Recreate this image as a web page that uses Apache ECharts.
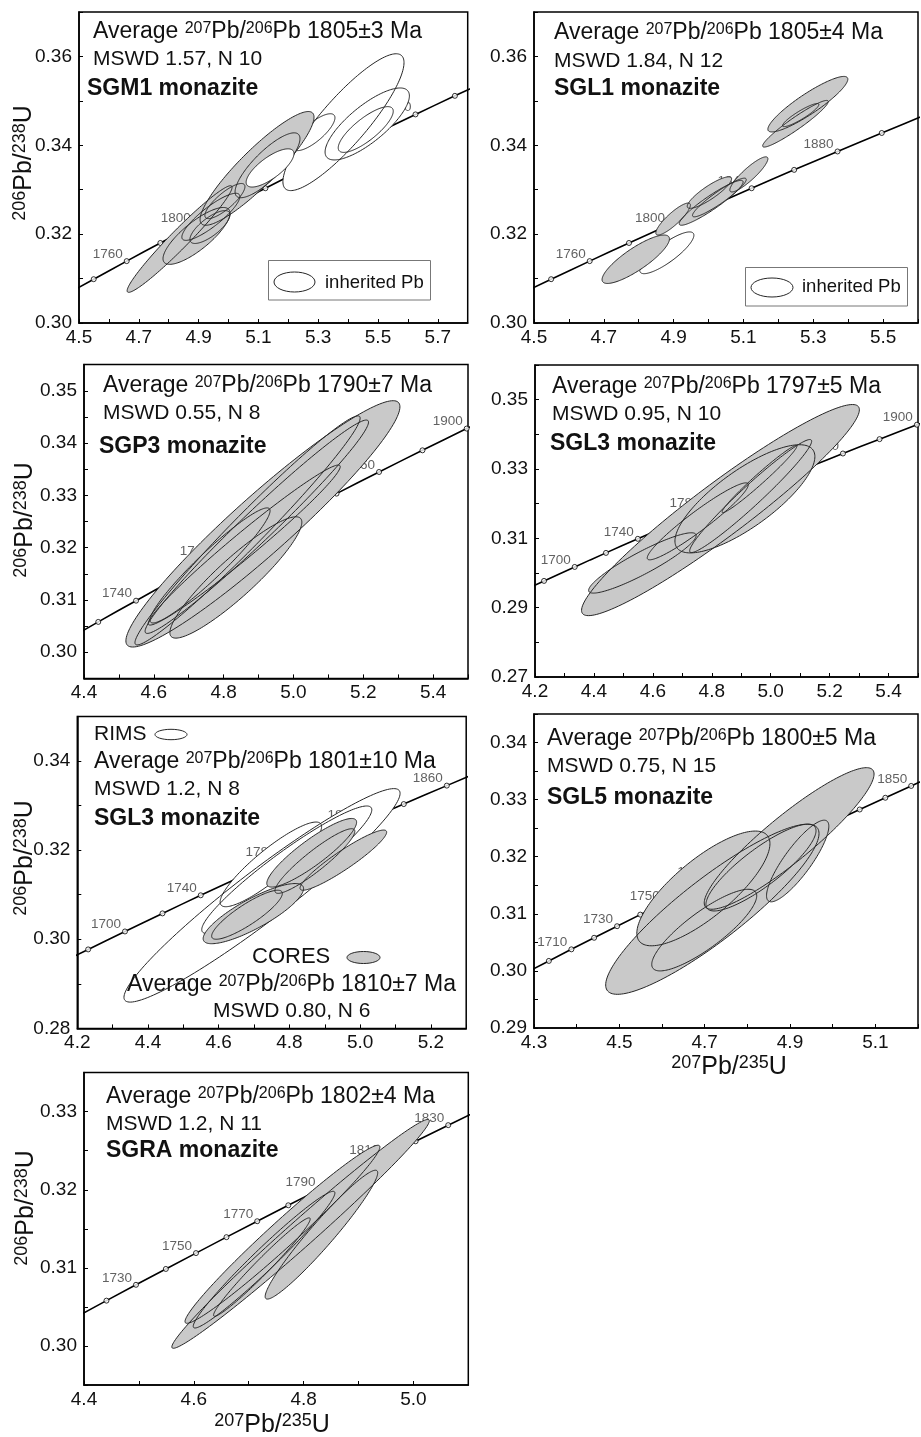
<!DOCTYPE html>
<html><head><meta charset="utf-8">
<script src="https://cdn.jsdelivr.net/npm/echarts@6/dist/echarts.min.js"></script>
<style>html,body{margin:0;padding:0;background:#fff}#c{width:921px;height:1437px}</style>
</head><body><div id="c"></div>
<script>
// ---------- Concordia (207Pb/235U, 206Pb/238U) every 10 Ma ----------
const concAges = [1660,1670,1680,1690,1700,1710,1720,1730,1740,1750,1760,1770,1780,1790,1800,1810,1820,1830,1840,1850,1860,1870,1880,1890,1900,1910,1920,1930,1940,1950,1960];
const concX = [4.1287,4.1795,4.2307,4.2825,4.3348,4.3876,4.4409,4.4947,4.5491,4.6040,4.6595,4.7155,4.7721,4.8292,4.8869,4.9452,5.0040,5.0634,5.1234,5.1840,5.2452,5.3071,5.3695,5.4325,5.4962,5.5605,5.6254,5.6910,5.7572,5.8241,5.8916];
const concY = [0.29370,0.29571,0.29772,0.29974,0.30175,0.30378,0.30580,0.30783,0.30986,0.31189,0.31393,0.31597,0.31801,0.32005,0.32210,0.32416,0.32621,0.32827,0.33033,0.33240,0.33447,0.33654,0.33861,0.34069,0.34277,0.34486,0.34695,0.34904,0.35113,0.35323,0.35533];

// ---------- Error ellipses: [x_lo, x_hi, y_lo, y_hi, rho] ----------
// Panel 1: SGM1
const p1White = [[5.182,5.587,0.3298,0.3606,0.87],[5.323,5.605,0.3367,0.3529,0.78],[5.216,5.356,0.3388,0.3471,0.78],[5.367,5.551,0.3384,0.3487,0.80]];
const p1Gray = [[4.661,5.012,0.3069,0.3309,0.97],[4.905,5.286,0.3220,0.3476,0.90],[4.781,5.005,0.3132,0.3260,0.80],[4.844,5.038,0.3186,0.3292,0.86],[4.921,5.055,0.3235,0.3314,0.82],[5.022,5.239,0.3282,0.3428,0.82],[4.871,5.005,0.3179,0.3253,0.75]];
const p1WhiteTop = [[5.059,5.219,0.3306,0.3392,0.75]];
// Panel 2: SGL1
const p2White = [[4.803,4.958,0.3111,0.3205,0.84]];
const p2Gray = [[5.170,5.399,0.3430,0.3555,0.90],[5.155,5.343,0.3396,0.3501,0.95],[5.212,5.316,0.3442,0.3494,0.91],[5.061,5.170,0.3295,0.3374,0.89],[4.939,5.066,0.3258,0.3329,0.87],[4.954,5.108,0.3239,0.3326,0.93],[4.916,5.099,0.3220,0.3321,0.93],[4.849,4.948,0.3198,0.3270,0.87],[4.695,4.888,0.3089,0.3198,0.84]];
// Panel 3: SGP3
const p3Gray = [[4.520,5.305,0.3010,0.3481,0.95],[4.546,5.191,0.3014,0.3452,0.98],[4.575,5.215,0.3036,0.3444,0.98],[4.584,5.134,0.3052,0.3358,0.98],[4.646,5.024,0.3027,0.3259,0.91],[4.589,4.933,0.3056,0.3276,0.95]];
// Panel 4: SGL3
const p4Gray = [[4.358,5.301,0.2877,0.3486,0.95],[4.675,5.150,0.3058,0.3370,0.78],[4.581,4.924,0.3038,0.3260,0.95],[4.382,4.747,0.2942,0.3116,0.91],[4.725,5.139,0.3059,0.3385,0.97],[4.835,5.089,0.3174,0.3368,0.98]];
// Panel 5: SGL3 rims / cores
const p5Rims = [[4.332,5.113,0.2859,0.3338,0.955],[4.552,5.033,0.3013,0.3299,0.94],[4.604,4.891,0.3073,0.3263,0.89]];
const p5Cores = [[4.556,4.840,0.2990,0.3125,0.83],[4.580,4.780,0.3000,0.3110,0.87],[4.736,4.990,0.3117,0.3271,0.89],[4.759,4.985,0.3103,0.3248,0.92],[4.830,5.075,0.3110,0.3245,0.93]];
// Panel 6: SGL5
const p6Gray = [[4.699,5.097,0.3108,0.3356,0.91],[4.541,4.853,0.3044,0.3245,0.78],[4.468,4.968,0.2959,0.3257,0.89],[4.576,4.822,0.3000,0.3143,0.84],[4.703,4.961,0.3105,0.3257,0.85],[4.845,4.991,0.3121,0.3264,0.85]];
// Panel 7: SGRA
const p7Gray = [[4.560,5.029,0.2997,0.3290,0.988],[4.584,4.939,0.3029,0.3257,0.98],[4.599,4.857,0.3023,0.3198,0.975],[4.636,4.812,0.3038,0.3164,0.977],[4.730,4.935,0.3060,0.3225,0.96]];

// ---------- Axis ranges and labelled ages ----------
const xRanges = [[4.5,5.8],[4.5,5.6],[4.4,5.5],[4.2,5.5],[4.2,5.3],[4.3,5.2],[4.4,5.1]];
const yRanges = [[0.30,0.37],[0.30,0.37],[0.295,0.355],[0.27,0.36],[0.28,0.35],[0.29,0.345],[0.295,0.335]];
const yTickSteps = [0.01,0.01,0.005,0.01,0.01,0.005,0.005];
const yLabelSteps = [0.02,0.02,0.01,0.02,0.02,0.01,0.01];
const markerSteps = [20,20,20,20,20,10,10];
const ageLabels = [
  [1760,1800,1840,1880,1920],
  [1760,1800,1840,1880],
  [1740,1780,1820,1860,1900],
  [1700,1740,1780,1820,1860,1900],
  [1700,1740,1780,1820,1860],
  [1710,1730,1750,1770,1790,1810,1830,1850],
  [1730,1750,1770,1790,1810,1830]
];

// ---------- layout (pixels) ----------
const FONT = "'Liberation Sans', Arial, Helvetica, sans-serif";
const grids = [
  {left:79, top:12, width:388.7, height:311},
  {left:534, top:12, width:390.5, height:311},
  {left:84, top:364.6, width:384, height:313.8},
  {left:535, top:365, width:392.2, height:312},
  {left:77.3, top:716.4, width:388.9, height:312},
  {left:534, top:714, width:389.7, height:314},
  {left:84, top:1072.6, width:384.3, height:312.4}
];
const GRAY = '#c9c9c9', EDGE = '#262626';

function onStep(v, base, step){ const q=(v-base)/step; return Math.abs(q-Math.round(q))<1e-6; }

const option = {animation:false, backgroundColor:'#fff', grid:[], xAxis:[], yAxis:[], series:[], graphic:{elements:[]}};

grids.forEach((g,k)=>{
  option.grid.push(Object.assign({show:true, borderColor:'#000', borderWidth:1.5, containLabel:false}, g));
  const xr = xRanges[k], yr = yRanges[k];
  const common = {
    type:'value', gridIndex:k, splitLine:{show:false},
    axisLine:{show:true, onZero:false, lineStyle:{color:'#000', width:1.5}},
    axisTick:{show:true, inside:true, length:4, lineStyle:{color:'#000', width:1}}
  };
  option.xAxis.push(Object.assign({}, common, {min:xr[0], max:xr[1], interval:0.1,
    axisLabel:{fontSize:19, fontFamily:FONT, color:'#111', margin:5,
      formatter:v=> onStep(v, xr[0], 0.2) ? v.toFixed(1) : ''}}));
  const yb = Math.ceil(yr[0]*100-1e-9)/100;
  option.yAxis.push(Object.assign({}, common, {min:yr[0], max:yr[1], interval:yTickSteps[k],
    axisLabel:{fontSize:19, fontFamily:FONT, color:'#111', margin:7,
      formatter:v=> onStep(v, yb, yLabelSteps[k]) ? v.toFixed(2) : ''}}));
  // concordia line
  option.series.push({type:'line', xAxisIndex:k, yAxisIndex:k, z:1, silent:true, symbol:'none',
    data: concX.map((x,i)=>[x, concY[i]]), lineStyle:{color:'#000', width:1.6}});
  // markers + age labels
  const mk = [];
  concAges.forEach((a,i)=>{
    if (a % markerSteps[k] !== 0) return;
    const item = {value:[concX[i], concY[i], a]};
    if (ageLabels[k].indexOf(a) >= 0) item.label = {show:true};
    mk.push(item);
  });
  option.series.push({type:'scatter', xAxisIndex:k, yAxisIndex:k, z:1, silent:true, symbol:'circle', symbolSize:5,
    itemStyle:{color:'#fff', borderColor:'#000', borderWidth:1}, data:mk,
    label:{show:false, position:'left', distance:1, offset:[0,-7], formatter:p=>String(p.value[2]),
      fontSize:13.5, fontFamily:FONT, color:'#3a3a3a'}});
});

let zc = 3;
function ell(k, data, fill, stroke){
  option.series.push({type:'custom', xAxisIndex:k, yAxisIndex:k, z:zc++, silent:true, clip:true,
    dimensions:['xlo','xhi','ylo','yhi','rho'], encode:{x:[0,1], y:[2,3]}, data,
    renderItem:(params, api)=>{
      const xlo=api.value(0), xhi=api.value(1), ylo=api.value(2), yhi=api.value(3), r=api.value(4);
      const cx=(xlo+xhi)/2, cy=(ylo+yhi)/2, sx=(xhi-xlo)/2, sy=(yhi-ylo)/2, q=Math.sqrt(1-r*r);
      const pts=[];
      for(let i=0;i<160;i++){ const t=i/160*2*Math.PI;
        pts.push(api.coord([cx+sx*Math.cos(t), cy+sy*(r*Math.cos(t)+q*Math.sin(t))])); }
      return {type:'polygon', shape:{points:pts}, style:{fill:fill, stroke:stroke, lineWidth:1}};
    }});
}
function group(k, data, fill){ ell(k, data, fill, null); ell(k, data, null, EDGE); }

group(0, p1White, '#fff'); group(0, p1Gray, GRAY); group(0, p1WhiteTop, '#fff');
group(1, p2White, '#fff'); group(1, p2Gray, GRAY);
group(2, p3Gray, GRAY);
group(3, p4Gray, GRAY);
group(4, p5Rims, '#fff'); group(4, p5Cores, GRAY);
group(5, p6Gray, GRAY);
group(6, p7Gray, GRAY);

// ---------- text ----------
const G = option.graphic.elements;
function T(x, y, text, size, bold, sup, extra){
  const el = {type:'text', x, y, z:100, silent:true, style:{text, fill:'#111', fontSize:size, fontFamily:FONT,
    fontWeight: bold?'bold':'normal', align:'left', verticalAlign:'middle',
    rich:{s:{fontSize:sup||Math.round(size*0.7), fontFamily:FONT, fontWeight:bold?'bold':'normal', verticalAlign:'top', fill:'#111'}}}};
  if (extra) Object.assign(el.style, extra.style||{}), extra.rotation!==undefined && (el.rotation=extra.rotation);
  G.push(el);
}
const AVG = (v)=> 'Average {s|207}Pb/{s|206}Pb ' + v + ' Ma';
T(93,32,AVG('1805±3'),23,false,16); T(93,59,'MSWD 1.57, N 10',21); T(87,89,'SGM1 monazite',23,true);
T(554,33,AVG('1805±4'),23,false,16); T(554,61,'MSWD 1.84, N 12',21); T(554,89,'SGL1 monazite',23,true);
T(103,386,AVG('1790±7'),23,false,16); T(103,413,'MSWD 0.55, N 8',21); T(99,447,'SGP3 monazite',23,true);
T(552,387,AVG('1797±5'),23,false,16); T(552,414,'MSWD 0.95, N 10',21); T(550,444,'SGL3 monazite',23,true);
T(94,734,'RIMS',21); T(94,762,AVG('1801±10'),23,false,16); T(94,789,'MSWD 1.2, N 8',21); T(94,819,'SGL3 monazite',23,true);
T(252,957,'CORES',22); T(127,985,AVG('1810±7'),23,false,16); T(213,1011,'MSWD 0.80, N 6',21);
T(547,739,AVG('1800±5'),23,false,16); T(547,766,'MSWD 0.75, N 15',21); T(547,798,'SGL5 monazite',23,true);
T(106,1097,AVG('1802±4'),23,false,16); T(106,1124,'MSWD 1.2, N 11',21); T(106,1151,'SGRA monazite',23,true);

// axis titles
const yT = '{s|206}Pb/{s|238}U', xT = '{s|207}Pb/{s|235}U';
[[24,163],[25,520],[25,858],[26,1208]].forEach(p=>T(p[0],p[1],yT,25,false,18,{rotation:Math.PI/2, style:{align:'center'}}));
[[729,1067],[272,1425]].forEach(p=>T(p[0],p[1],xT,25,false,18,{style:{align:'center'}}));

// legend keys
G.push({type:'rect', z:99, silent:true, shape:{x:268.5,y:260.5,width:162,height:39.5}, style:{fill:'#fff', stroke:'#777', lineWidth:1}});
G.push({type:'ellipse', z:100, silent:true, shape:{cx:294.5,cy:282,rx:20.5,ry:10}, style:{fill:'#fff', stroke:EDGE, lineWidth:1}});
T(325,283,'inherited Pb',18.5);
G.push({type:'rect', z:99, silent:true, shape:{x:745.5,y:267.5,width:162,height:38.5}, style:{fill:'#fff', stroke:'#777', lineWidth:1}});
G.push({type:'ellipse', z:100, silent:true, shape:{cx:772,cy:287.5,rx:21,ry:9.5}, style:{fill:'#fff', stroke:EDGE, lineWidth:1}});
T(802,287,'inherited Pb',18.5);
G.push({type:'ellipse', z:100, silent:true, shape:{cx:171,cy:734.5,rx:16,ry:5.2}, style:{fill:'#fff', stroke:EDGE, lineWidth:1}});
G.push({type:'ellipse', z:100, silent:true, shape:{cx:363.5,cy:957.5,rx:16.5,ry:6}, style:{fill:GRAY, stroke:EDGE, lineWidth:1}});

const chart = echarts.init(document.getElementById('c'), null, {renderer:'canvas'});
chart.setOption(option);
</script>
</body></html>
